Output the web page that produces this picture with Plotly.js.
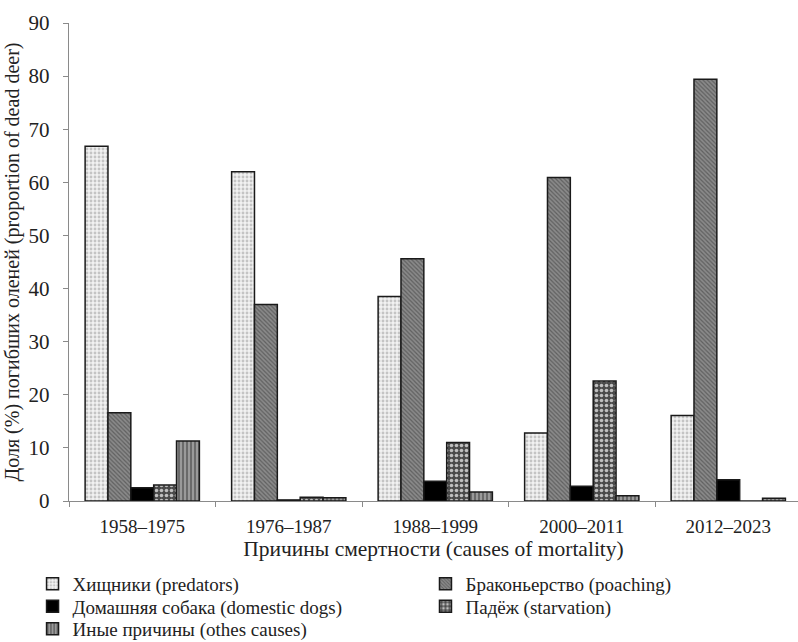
<!DOCTYPE html>
<html>
<head>
<meta charset="utf-8">
<script src="https://cdn.plot.ly/plotly-3.0.1.min.js"></script>
<style>html,body{margin:0;padding:0;background:#fff;}#chart{width:798px;height:642px;}</style>
</head>
<body>
<div id="chart"></div>
<script>
const periods = ['1958–1975', '1976–1987', '1988–1999', '2000–2011', '2012–2023'];
const predators  = [66.8, 62.0, 38.5, 12.8, 16.1];
const poaching   = [16.6, 37.0, 45.6, 60.9, 79.4];
const dogs       = [2.5, 0.2, 3.7, 2.8, 4.0];
const starvation = [3.0, 0.7, 11.0, 22.6, 0.0];
const other      = [11.3, 0.6, 1.7, 1.0, 0.5];
const seriesNames = ['Хищники (predators)', 'Браконьерство (poaching)', 'Домашняя собака (domestic dogs)', 'Падёж (starvation)', 'Иные причины (othes causes)'];

const line = {color: '#1a1a1a', width: 1.5};
function tr(y, name, pattern, color, legend) {
  return {type: 'bar', x: periods, y: y, name: name, legend: legend,
    marker: {color: color, line: line, pattern: pattern}, hoverinfo: 'x+y+name'};
}
const data = [
  tr(predators, seriesNames[0], {shape: '.', bgcolor: '#f2f2f2', fgcolor: '#c4c4c4', size: 4, solidity: 0.4}, '#f2f2f2', 'legend'),
  tr(poaching, seriesNames[1], {shape: '\\', bgcolor: '#8a8a8a', fgcolor: '#606060', size: 3, solidity: 0.4}, '#8a8a8a', 'legend2'),
  tr(dogs, seriesNames[2], {shape: ''}, '#000000', 'legend3'),
  tr(starvation, seriesNames[3], {shape: '.', bgcolor: '#4a4a4a', fgcolor: '#c0c0c0', size: 5, solidity: 0.4}, '#4a4a4a', 'legend4'),
  tr(other, seriesNames[4], {shape: '|', bgcolor: '#9a9a9a', fgcolor: '#5e5e5e', size: 4, solidity: 0.4}, '#9a9a9a', 'legend5')
];

const font = {family: 'Liberation Serif, Times New Roman, serif', color: '#222'};
const legendBase = {orientation: 'v', yanchor: 'middle', xanchor: 'left', bgcolor: 'rgba(0,0,0,0)',
  font: Object.assign({}, font, {size: 19}), itemwidth: 30, tracegroupgap: 0};
const col1 = -0.050, col2 = 0.489;
const layout = {
  width: 798, height: 642,
  margin: {l: 69, r: 0, t: 23, b: 141, autoexpand: false},
  paper_bgcolor: '#fff', plot_bgcolor: '#fff',
  font: font,
  barmode: 'group', bargap: 0.22, bargroupgap: 0,
  showlegend: true,
  xaxis: {
    type: 'category', range: [-0.5, 4.476], tickson: 'boundaries',
    ticks: 'outside', ticklen: 5, tickcolor: '#8a8a8a', ticklabelstandoff: 8,
    showline: true, linecolor: '#8a8a8a', linewidth: 1.3,
    showgrid: false, zeroline: false, automargin: true,
    tickfont: Object.assign({}, font, {size: 19}),
    title: {text: 'Причины смертности (causes of mortality)', font: Object.assign({}, font, {size: 21.5}), standoff: 1}
  },
  yaxis: {
    range: [0, 90], dtick: 10, ticks: 'outside', ticklen: 5, tickcolor: '#8a8a8a', ticklabelstandoff: 9,
    showline: true, linecolor: '#8a8a8a', linewidth: 1.3,
    showgrid: false, zeroline: false, automargin: false,
    tickfont: Object.assign({}, font, {size: 21}),
    title: {text: 'Доля (%) погибших оленей (proportion of dead deer)', font: Object.assign({}, font, {size: 20})}
  },
  legend:  Object.assign({}, legendBase, {x: col1, y: -0.1736}),
  legend2: Object.assign({}, legendBase, {x: col2, y: -0.1736}),
  legend3: Object.assign({}, legendBase, {x: col1, y: -0.2207}),
  legend4: Object.assign({}, legendBase, {x: col2, y: -0.2207}),
  legend5: Object.assign({}, legendBase, {x: col1, y: -0.2678})
};
Plotly.newPlot('chart', data, layout, {displayModeBar: false, staticPlot: true});
</script>
</body>
</html>
